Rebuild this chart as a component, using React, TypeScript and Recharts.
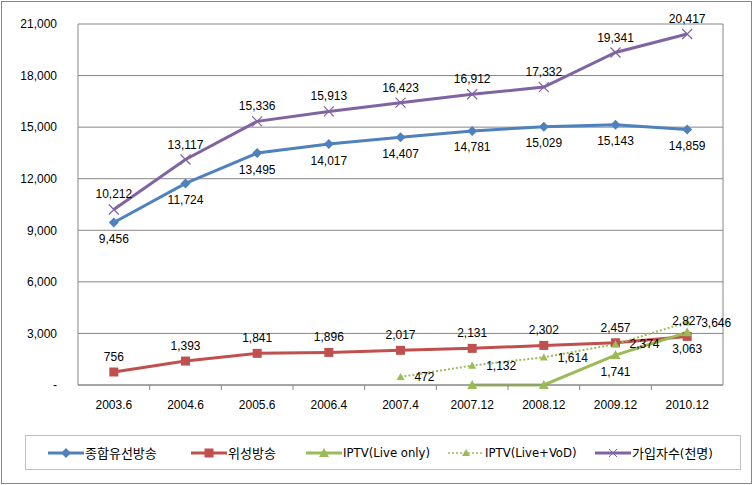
import { LineChart, Line, XAxis, YAxis, CartesianGrid, LabelList } from 'recharts';

const categories = ['2003.6', '2004.6', '2005.6', '2006.4', '2007.4', '2007.12', '2008.12', '2009.12', '2010.12'];
const cable = [9456, 11724, 13495, 14017, 14407, 14781, 15029, 15143, 14859];
const satellite = [756, 1393, 1841, 1896, 2017, 2131, 2302, 2457, 2827];
const iptvLive = [null, null, null, null, null, 0, 0, 1741, 3063];
const iptvVod = [null, null, null, null, 472, 1132, 1614, 2374, 3646];
const subscribers = [10212, 13117, 15336, 15913, 16423, 16912, 17332, 19341, 20417];
const yTicks = [0, 3000, 6000, 9000, 12000, 15000, 18000, 21000];

const data = categories.map((name, i) => ({
  name,
  cable: cable[i],
  satellite: satellite[i],
  iptvLive: iptvLive[i],
  iptvVod: iptvVod[i],
  subscribers: subscribers[i],
}));

const BLUE = '#4F81BD';
const RED = '#C0504D';
const GREEN = '#9BBB59';
const PURPLE = '#8064A2';
const GRID = '#868686';

const W = 753;
const H = 485;
const PLOT_LEFT = 78;
const PLOT_RIGHT = 723;
const HALF = (PLOT_RIGHT - PLOT_LEFT) / categories.length / 2;

const NUM_FONT = '"Liberation Sans", Arial, sans-serif';
const LEGEND_FONT = '"DejaVu Sans Condensed", "Noto Sans CJK KR", sans-serif';

const fmt = (v: any) => (v == null || v === 0 ? '' : Number(v).toLocaleString('en-US'));

const Diamond = (p: any) => {
  const { cx, cy } = p;
  if (cx == null || cy == null) return <g key={p.key} />;
  return <path key={p.key} d={`M${cx},${cy - 5}L${cx + 5},${cy}L${cx},${cy + 5}L${cx - 5},${cy}Z`} fill={BLUE} />;
};

const Square = (p: any) => {
  const { cx, cy } = p;
  if (cx == null || cy == null) return <g key={p.key} />;
  return <rect key={p.key} x={cx - 4.5} y={cy - 4.5} width={9} height={9} fill={RED} />;
};

const triangle = (size: number) => (p: any) => {
  const { cx, cy, payload, dataKey } = p;
  if (cx == null || cy == null || payload[dataKey] == null) return <g key={p.key} />;
  return (
    <path
      key={p.key}
      d={`M${cx},${cy - size}L${cx + size},${cy + size * 0.8}L${cx - size},${cy + size * 0.8}Z`}
      fill={GREEN}
    />
  );
};

const Cross = (p: any) => {
  const { cx, cy } = p;
  if (cx == null || cy == null) return <g key={p.key} />;
  return (
    <g key={p.key} stroke={PURPLE} strokeWidth={1.2}>
      <line x1={cx - 5} y1={cy - 5} x2={cx + 5} y2={cy + 5} />
      <line x1={cx - 5} y1={cy + 5} x2={cx + 5} y2={cy - 5} />
    </g>
  );
};

const XTick = (p: any) => {
  const { x, y, payload, index } = p;
  return (
    <g>
      <text x={x} y={y + 24} textAnchor="middle" fontSize={12} fontFamily={NUM_FONT} fill="#000">
        {payload.value}
      </text>
      {index < categories.length - 1 && (
        <line x1={x + HALF} x2={x + HALF} y1={y} y2={y + 5} stroke={GRID} />
      )}
    </g>
  );
};

const labelStyle = { fontSize: 12, fontFamily: NUM_FONT, fill: '#000' };

const legendItems = [
  { name: '종합유선방송', color: BLUE, kind: 'diamond', left: 22 },
  { name: '위성방송', color: RED, kind: 'square', left: 165 },
  { name: 'IPTV(Live only)', color: GREEN, kind: 'tri', left: 280 },
  { name: 'IPTV(Live+VoD)', color: GREEN, kind: 'dotted', left: 422 },
  { name: '가입자수(천명)', color: PURPLE, kind: 'cross', left: 569 },
];

const LegendIcon = ({ color, kind }: { color: string; kind: string }) => (
  <svg width={36} height={12} style={{ marginRight: 1 }}>
    <line
      x1={0}
      x2={36}
      y1={6}
      y2={6}
      stroke={color}
      strokeWidth={kind === 'dotted' ? 1.5 : 3}
      strokeDasharray={kind === 'dotted' ? '2 2' : undefined}
    />
    {kind === 'diamond' && <path d="M18,1L23,6L18,11L13,6Z" fill={color} />}
    {kind === 'square' && <rect x={13.5} y={1.5} width={9} height={9} fill={color} />}
    {kind === 'tri' && <path d="M18,1L23,10L13,10Z" fill={color} />}
    {kind === 'dotted' && <path d="M18,2L22,9L14,9Z" fill={color} />}
    {kind === 'cross' && (
      <g stroke={color} strokeWidth={1}>
        <line x1={14} y1={2} x2={22} y2={10} />
        <line x1={14} y1={10} x2={22} y2={2} />
      </g>
    )}
  </svg>
);

export default function App() {
  return (
    <div style={{ position: 'absolute', left: 0, top: 0, width: W, height: H, background: '#fff' }}>
      <style>{`body{margin:0}`}</style>
      <div
        style={{
          position: 'absolute',
          left: 1,
          top: 1,
          width: W - 4,
          height: H - 4,
          border: `1px solid ${GRID}`,
        }}
      />
      <div style={{ position: 'absolute', left: 0, top: 0 }}>
        <LineChart width={W} height={H} data={data} margin={{ top: 24, right: W - PLOT_RIGHT, bottom: 70, left: 0 }}>
          <CartesianGrid stroke={GRID} vertical verticalPoints={[PLOT_RIGHT]} />
          <XAxis
            dataKey="name"
            height={30}
            padding={{ left: HALF, right: HALF }}
            axisLine={{ stroke: GRID }}
            tickLine={false}
            tickSize={0}
            tickMargin={0}
            interval={0}
            tick={<XTick />}
          />
          <YAxis
            width={PLOT_LEFT}
            domain={[0, 21000]}
            ticks={yTicks}
            interval={0}
            axisLine={{ stroke: GRID }}
            tickLine={false}
            tickSize={0}
            tickMargin={21}
            tick={{ fontSize: 12, fontFamily: NUM_FONT, fill: '#000' }}
            tickFormatter={(v: number) => (v === 0 ? '-' : v.toLocaleString('en-US'))}
          />
          <Line dataKey="cable" stroke={BLUE} strokeWidth={3} dot={<Diamond />} isAnimationActive={false}>
            <LabelList dataKey="cable" position="bottom" offset={12} formatter={fmt} style={labelStyle} />
          </Line>
          <Line dataKey="satellite" stroke={RED} strokeWidth={3} dot={<Square />} isAnimationActive={false}>
            <LabelList dataKey="satellite" position="top" offset={11} formatter={fmt} style={labelStyle} />
          </Line>
          <Line dataKey="iptvLive" stroke={GREEN} strokeWidth={3} dot={triangle(5)} isAnimationActive={false}>
            <LabelList dataKey="iptvLive" position="bottom" offset={12} formatter={fmt} style={labelStyle} />
          </Line>
          <Line
            dataKey="iptvVod"
            stroke={GREEN}
            strokeWidth={2}
            strokeDasharray="2 2"
            dot={triangle(4)}
            isAnimationActive={false}
          >
            <LabelList dataKey="iptvVod" position="right" offset={14} formatter={fmt} style={labelStyle} />
          </Line>
          <Line dataKey="subscribers" stroke={PURPLE} strokeWidth={3} dot={<Cross />} isAnimationActive={false}>
            <LabelList dataKey="subscribers" position="top" offset={11} formatter={fmt} style={labelStyle} />
          </Line>
        </LineChart>
      </div>
      <div
        style={{
          position: 'absolute',
          left: 25,
          top: 435,
          width: 716,
          height: 35,
          boxSizing: 'border-box',
          border: `1px solid #BFBFBF`,
          fontFamily: LEGEND_FONT,
          fontSize: 13,
          color: '#000',
        }}
      >
        {legendItems.map((it) => (
          <div
            key={it.name}
            style={{
              position: 'absolute',
              left: it.left,
              top: 0,
              height: 33,
              display: 'flex',
              alignItems: 'center',
              whiteSpace: 'nowrap',
            }}
          >
            <LegendIcon color={it.color} kind={it.kind} />
            <span>{it.name}</span>
          </div>
        ))}
      </div>
    </div>
  );
}
